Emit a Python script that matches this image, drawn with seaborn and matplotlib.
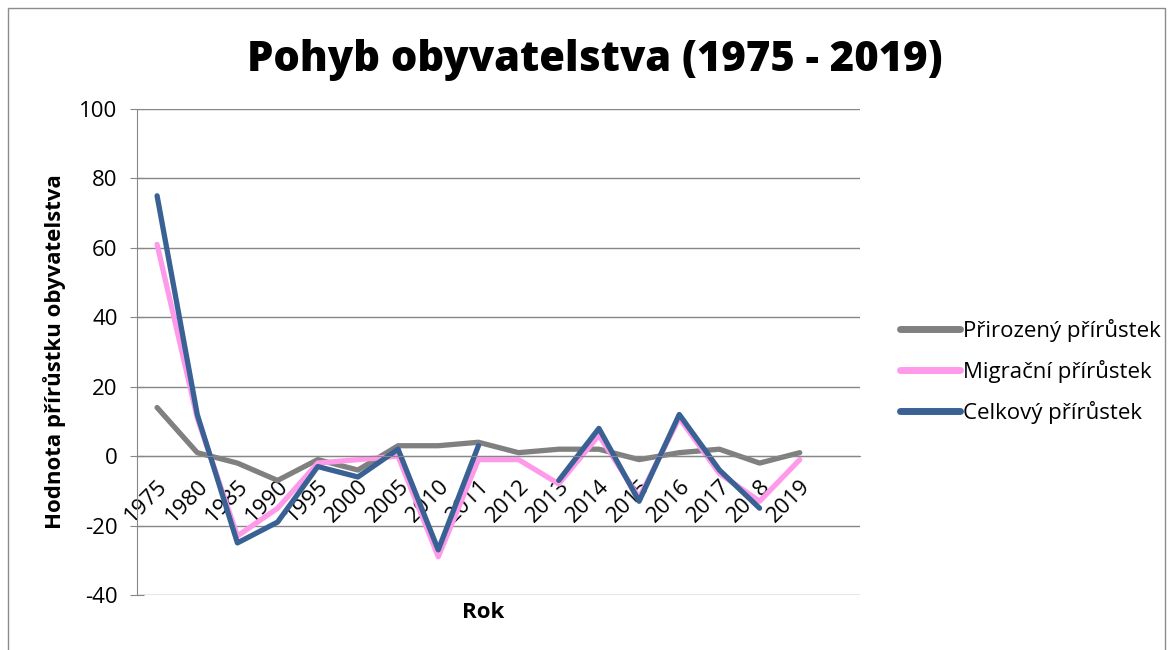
import numpy as np
import pandas as pd
import seaborn as sns
import matplotlib.pyplot as plt
from matplotlib.patches import Rectangle

# categories on the x axis (last slot is empty, as in the original)
years = ['1975', '1980', '1985', '1990', '1995', '2000', '2005', '2010', '2011',
         '2012', '2013', '2014', '2015', '2016', '2017', '2018', '2019', '']

# series values
prirozeny = [14, 1, -2, -7, -1, -4, 3, 3, 4, 1, 2, 2, -1, 1, 2, -2, 1, np.nan]
migracni = [61, 11, -23, -15, -2, -1, 0, -29, -1, -1, -8, 6, -12, 11, -5, -13, -1, np.nan]
celkovy = [75, 12, -25, -19, -3, -6, 2, -27, 3, np.nan, -7, 8, -13, 12, -4, -15, np.nan, np.nan]

series_names = ['Přirozený přírůstek', 'Migrační přírůstek', 'Celkový přírůstek']
colors = ['#808080', '#ff9aeb', '#3a6194']

# build a long table; `seg` splits a series where values are missing
frames = []
for name, vals in zip(series_names, [prirozeny, migracni, celkovy]):
    d = pd.DataFrame({'pos': range(len(years)), 'value': vals, 'series': name})
    d['seg'] = d['value'].isna().cumsum()
    frames.append(d)
df = pd.concat(frames, ignore_index=True).dropna()

sns.set_style('white')
plt.rcParams['font.family'] = ['Open Sans', 'DejaVu Sans']
plt.rcParams['axes.unicode_minus'] = False
plt.rcParams['text.color'] = '#000000'

fig = plt.figure(figsize=(11.73, 6.5), dpi=100)
ax = fig.add_axes([137 / 1173, 1 - 595 / 650, (860 - 137) / 1173, (595 - 109) / 650])

sns.lineplot(data=df, x='pos', y='value', hue='series', units='seg',
             estimator=None, palette=colors, hue_order=series_names,
             linewidth=3.8, ax=ax)

# axis limits and grid
ax.set_xlim(-0.5, len(years) - 0.5)
ax.set_ylim(-40, 100)
ax.set_yticks(range(-40, 101, 20))
ax.yaxis.grid(True, color='#878787', linewidth=1)
ax.set_axisbelow(True)

# category axis sits on the zero line
for side in ['top', 'right']:
    ax.spines[side].set_visible(False)
ax.spines['bottom'].set_position(('data', 0))
ax.spines['bottom'].set_color('#878787')
ax.spines['left'].set_color('#878787')

ax.set_xticks(range(len(years)))
ax.set_xticklabels(years, rotation=45, ha='right', rotation_mode='anchor')
ax.set_xticks(np.arange(-0.5, len(years), 1), minor=True)
ax.tick_params(axis='x', which='major', length=0, pad=14, labelsize=16,
               labelcolor='black')
ax.tick_params(axis='x', which='minor', direction='out', length=7,
               color='#878787', width=1)
ax.tick_params(axis='y', direction='inout', length=10, color='#878787',
               labelsize=16, left=True, pad=9, labelcolor='black')

ax.set_xlabel('')
ax.set_ylabel('')

# labels and title
fig.text(483 / 1173, 1 - 612 / 650, 'Rok', ha='center', va='center',
         fontsize=16, fontweight='bold')
fig.text(55 / 1173, 1 - 352 / 650, 'Hodnota přírůstku obyvatelstva',
         ha='center', va='center', rotation=90, fontsize=16, fontweight='bold')
fig.text(595 / 1173, 1 - 60 / 650, 'Pohyb obyvatelstva (1975 - 2019)',
         ha='center', va='center', fontsize=30, fontweight='heavy')

# legend on the right
leg = ax.legend(loc='center left', bbox_to_anchor=(1.027, 0.46), frameon=False,
                fontsize=16, handlelength=2.7, handletextpad=0.15,
                labelspacing=0.8)
for line in leg.get_lines():
    line.set_linewidth(5)

# outer chart border
fig.patches.append(Rectangle((8 / 1173, -0.1), 1157 / 1173, 1.1 - 8 / 650,
                             transform=fig.transFigure, fill=False,
                             edgecolor='#8c8c8c', linewidth=1))

fig.savefig('out.png', dpi=100)
